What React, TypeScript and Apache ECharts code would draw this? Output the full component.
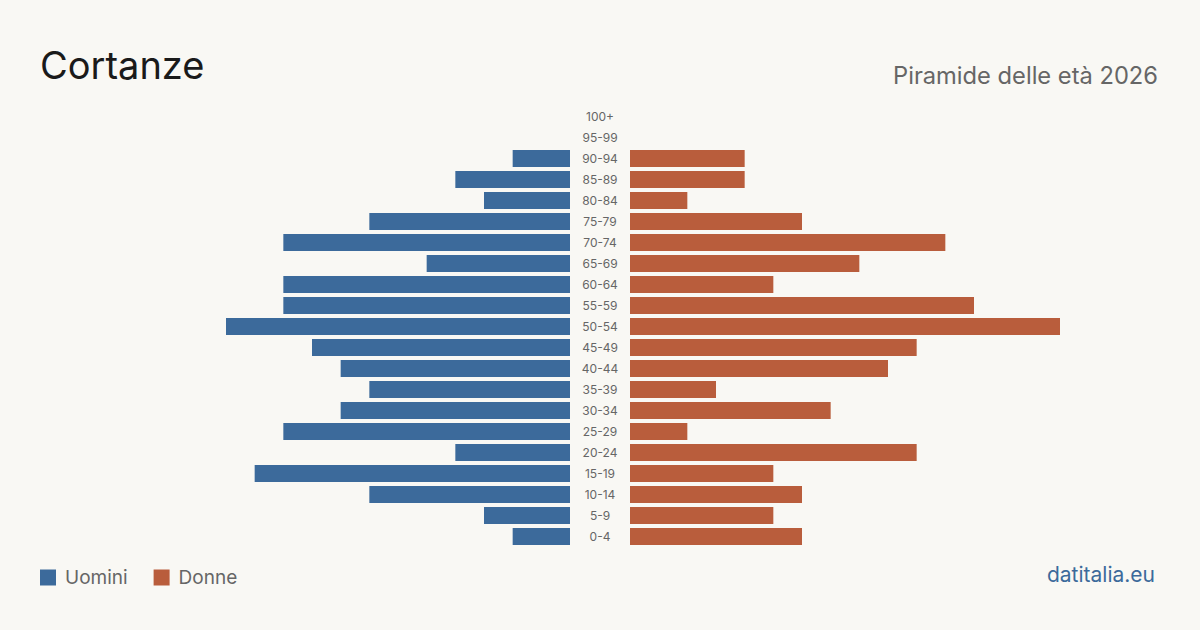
import React, { useEffect, useRef } from "react";
import * as echarts from "echarts";

const ageGroups = [
  "100+", "95-99", "90-94", "85-89", "80-84", "75-79", "70-74", "65-69", "60-64", "55-59",
  "50-54", "45-49", "40-44", "35-39", "30-34", "25-29", "20-24", "15-19", "10-14", "5-9", "0-4",
];
const males = [0, 0, 2, 4, 3, 7, 10, 5, 10, 10, 12, 9, 8, 7, 8, 10, 4, 11, 7, 3, 2];
const females = [0, 0, 4, 4, 2, 6, 11, 8, 5, 12, 15, 10, 9, 3, 7, 2, 10, 5, 6, 5, 6];
const axisMax = 15;

const title = "Cortanze";
const subtitle = "Piramide delle età 2026";
const source = "datitalia.eu";

const BLUE = "#3c6a9b";
const ORANGE = "#b95d3c";
const FONT = "Inter, 'Noto Sans', sans-serif";

export default function App() {
  const ref = useRef<HTMLDivElement>(null);
  useEffect(() => {
    if (!ref.current) return;
    const chart = echarts.init(ref.current, null, { renderer: "svg" });
    chart.setOption({
      animation: false,
      backgroundColor: "#f9f8f4",
      textStyle: { fontFamily: FONT },
      grid: [
        { left: 140, width: 430, top: 106, height: 441 },
        { left: 630, width: 430, top: 106, height: 441 },
      ],
      xAxis: [
        { gridIndex: 0, type: "value", min: 0, max: axisMax, inverse: true, show: false },
        { gridIndex: 1, type: "value", min: 0, max: axisMax, show: false },
      ],
      yAxis: [
        {
          gridIndex: 0, type: "category", data: ageGroups, inverse: true,
          axisLine: { show: false }, axisTick: { show: false }, axisLabel: { show: false },
        },
        {
          gridIndex: 1, type: "category", data: ageGroups, inverse: true, position: "left",
          axisLine: { show: false }, axisTick: { show: false },
          axisLabel: { show: true, align: "center", margin: 30, fontSize: 12, color: "#666", fontFamily: FONT },
        },
      ],
      legend: {
        left: 40, top: 568, padding: 0, itemWidth: 16, itemHeight: 16, itemGap: 26, icon: "rect",
        textStyle: { fontSize: 19, color: "#666", fontFamily: FONT, padding: [0, 0, 0, 4] },
        data: ["Uomini", "Donne"],
      },
      series: [
        {
          name: "Uomini", type: "bar", xAxisIndex: 0, yAxisIndex: 0, data: males,
          barWidth: 17, itemStyle: { color: BLUE },
        },
        {
          name: "Donne", type: "bar", xAxisIndex: 1, yAxisIndex: 1, data: females,
          barWidth: 17, itemStyle: { color: ORANGE },
        },
      ],
      graphic: [
        {
          type: "text", left: 40, top: 46,
          style: { text: title, fontSize: 38, fill: "#1a1a1a", fontFamily: FONT },
        },
        {
          type: "text", right: 42, top: 63,
          style: { text: subtitle, fontSize: 23.7, fill: "#666", fontFamily: FONT },
        },
        {
          type: "text", right: 45, top: 564,
          style: { text: source, fontSize: 21, fill: BLUE, fontFamily: FONT },
        },
      ],
    });
    return () => chart.dispose();
  }, []);
  return <div ref={ref} style={{ width: 1200, height: 630, position: "absolute", left: 0, top: 0 }} />;
}
